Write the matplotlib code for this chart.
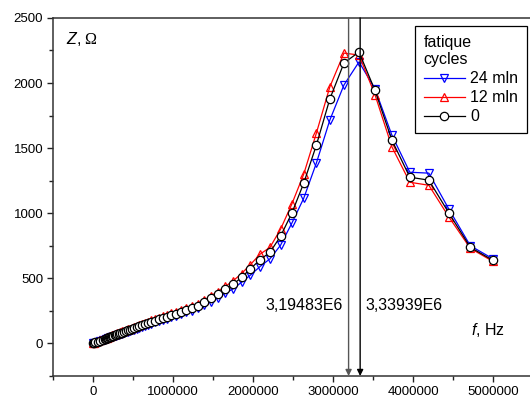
import matplotlib
matplotlib.use("Agg")
import matplotlib.pyplot as plt
from matplotlib.ticker import MultipleLocator, FormatStrFormatter

plt.rcParams['font.family'] = ['Liberation Sans', 'DejaVu Sans']
plt.rcParams['mathtext.fontset'] = 'custom'
plt.rcParams['mathtext.it'] = 'Liberation Sans:italic'
plt.rcParams['mathtext.rm'] = 'Liberation Serif'

# frequency, Hz (log sweep)
freq = [1000, 10000, 30000, 60000, 90000, 120000,
        152000, 161000, 170000, 180000, 191000, 203000, 215000, 228000, 242000, 256000,
        271000, 288000, 305000, 323000, 343000, 363000, 385000, 408000, 433000, 459000,
        486000, 515000, 546000, 579000, 614000, 651000, 690000, 731000, 775000, 821000,
        871000, 923000, 978000, 1037000, 1099000, 1165000, 1235000, 1309000, 1388000, 1471000,
        1559000, 1653000, 1752000, 1857000, 1968000, 2087000, 2212000, 2344000, 2485000, 2634000,
        2792000, 2960000, 3137000, 3325000, 3525000, 3736000, 3960000, 4198000, 4450000, 4717000,
        5000000]

# impedance Z, Ohm
z_24mln = [0, 2, 6, 12, 18, 24,
           30, 32, 34, 36, 39, 41, 44, 46, 49, 53,
           56, 60, 63, 67, 71, 75, 80, 85, 90, 95,
           101, 107, 114, 121, 128, 136, 143, 152, 161, 171,
           181, 191, 202, 213, 226, 239, 253, 270, 292, 320,
           350, 385, 420, 470, 525, 590, 650, 754, 923, 1115,
           1385, 1715, 1985, 2162, 1955, 1600, 1315, 1308, 1030, 750,
           650]
z_12mln = [1, 4, 10, 18, 26, 34,
           41, 43, 45, 48, 51, 53, 56, 59, 62, 66,
           70, 74, 78, 83, 88, 92, 97, 103, 108, 114,
           121, 128, 135, 143, 151, 159, 168, 177, 187, 197,
           208, 219, 231, 243, 257, 271, 287, 306, 333, 365,
           398, 438, 481, 537, 606, 685, 738, 877, 1070, 1300,
           1615, 1970, 2230, 2215, 1910, 1510, 1238, 1215, 970, 730,
           630]
z_0 = [0.5, 3, 8, 15, 22, 29,
       36, 38, 40, 42, 45, 47, 50, 53, 56, 60,
       63, 67, 71, 75, 80, 84, 89, 95, 100, 106,
       112, 119, 126, 133, 141, 149, 157, 166, 176, 186,
       196, 207, 218, 230, 243, 257, 272, 290, 315, 346,
       377, 415, 454, 508, 573, 643, 700, 823, 1000, 1231,
       1523, 1877, 2154, 2238, 1943, 1562, 1277, 1254, 1000, 738,
       638]

peaks = [3.19483e6, 3.33939e6]
peak_labels = ["3,19483E6", "3,33939E6"]

fig = plt.figure(figsize=(5.30, 4.01), dpi=100)
ax = fig.add_axes([0.1, 0.0623, 0.9, 0.893])

ax.plot(freq, z_24mln, color='blue', lw=0.9, marker='v', ms=6, mfc='none',
        mec='blue', mew=0.9, label='24 mln')
ax.plot(freq, z_12mln, color='red', lw=0.9, marker='^', ms=6, mfc='none',
        mec='red', mew=0.9, label='12 mln')
ax.plot(freq, z_0, color='black', lw=0.9, marker='o', ms=6, mfc='white',
        mec='black', mew=0.9, label='0')

ax.set_xlim(-500000, 5462500)
ax.set_ylim(-250, 2500)

# resonance markers
for x, c in zip(peaks, ['#555555', 'black']):
    ax.annotate('', xy=(x, -250), xytext=(x, 2500),
                arrowprops=dict(arrowstyle='-|>', color=c, lw=1.0,
                                mutation_scale=9, shrinkA=0, shrinkB=0))
ax.text(peaks[0] - 70000, 290, peak_labels[0], ha='right', va='center', fontsize=11.5)
ax.text(peaks[1] + 70000, 290, peak_labels[1], ha='left', va='center', fontsize=11.5)

ax.text(4720000, 100, r"$f$, Hz", ha='left', va='center', fontsize=11.5)
ax.text(-340000, 2340, r"$\mathit{Z}$, $\Omega$", ha='left', va='center', fontsize=11.5)

ax.xaxis.set_major_locator(MultipleLocator(1000000))
ax.xaxis.set_minor_locator(MultipleLocator(500000))
ax.xaxis.set_major_formatter(FormatStrFormatter('%d'))
ax.yaxis.set_major_locator(MultipleLocator(500))
ax.yaxis.set_minor_locator(MultipleLocator(250))
ax.yaxis.set_major_formatter(FormatStrFormatter('%d'))
ax.tick_params(which='major', direction='out', length=4, width=1, labelsize=9.5,
               colors='#222222', pad=3)
ax.tick_params(which='minor', direction='out', length=3, width=1, colors='#222222')
ax.tick_params(labelcolor='black')
ax.spines['right'].set_visible(False)
for s in ['left', 'bottom', 'top']:
    ax.spines[s].set_linewidth(1.1)
    ax.spines[s].set_color('#333333')

leg = ax.legend(title="fatique\ncycles", loc='upper right', bbox_to_anchor=(0.993, 0.977),
                fontsize=11.5, title_fontsize=11.5, handlelength=2.6, handletextpad=0.3,
                labelspacing=0.25, borderpad=0.55, borderaxespad=0.0,
                fancybox=False, framealpha=1)
leg._legend_box.align = 'left'
leg.get_frame().set_edgecolor('black')
leg.get_frame().set_linewidth(0.9)

fig.savefig("out.png", dpi=100)
